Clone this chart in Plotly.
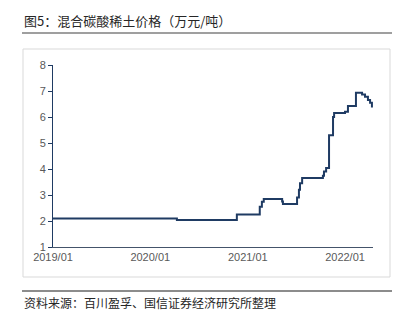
import plotly.graph_objects as go

dates = ["2019-01-01", "2020-04-10", "2020-11-21", "2021-02-15", "2021-02-23", "2021-03-02",
         "2021-05-10", "2021-05-13", "2021-07-05", "2021-07-12", "2021-07-16", "2021-07-24",
         "2021-10-10", "2021-10-14", "2021-10-22", "2021-11-02", "2021-11-06", "2021-11-17",
         "2021-11-21", "2021-11-28", "2022-01-01", "2022-01-12", "2022-02-08", "2022-02-11",
         "2022-03-06", "2022-03-17", "2022-03-28", "2022-04-05", "2022-04-12"]
values = [2.10, 2.04, 2.25, 2.55, 2.74, 2.85,
          2.75, 2.65, 2.90, 3.20, 3.45, 3.65,
          3.74, 3.90, 4.04, 5.30, 5.30, 6.00,
          6.15, 6.15, 6.20, 6.42, 6.42, 6.93,
          6.87, 6.78, 6.65, 6.55, 6.37]

title_text = "图5：混合碳酸稀土价格（万元/吨）"
source_text = "资料来源：百川盈孚、国信证券经济研究所整理"

CJK = "Noto Sans CJK SC"
NUM = "Liberation Sans, Arial"

fig = go.Figure()
fig.add_trace(go.Scatter(x=dates, y=values, mode="lines", line_shape="hv",
                         line=dict(color="#1f3b63", width=2), hoverinfo="skip"))

W, H = 406, 311
fig.update_layout(
    width=W, height=H,
    margin=dict(l=53, r=33, t=65, b=64),
    paper_bgcolor="white", plot_bgcolor="white",
    showlegend=False,
    xaxis=dict(range=["2019-01-01", "2022-04-16"], tickformat="%Y/%m", dtick="M12",
               tick0="2019-01-01", showgrid=False, zeroline=False, showline=True,
               linecolor="#44546a", linewidth=1, ticks="",
               tickfont=dict(family=NUM, size=11, color="#595959")),
    yaxis=dict(range=[1, 8], dtick=1, showgrid=False, zeroline=False, showline=True,
               linecolor="#1f3b63", linewidth=1, ticks="outside", ticklen=4,
               tickcolor="#1f3b63", tickwidth=1,
               tickfont=dict(family=NUM, size=11, color="#595959")),
    shapes=[
        dict(type="line", xref="paper", yref="paper", x0=(22-53)/320, x1=(392-53)/320,
             y0=(247-33)/182, y1=(247-33)/182, line=dict(color="#404040", width=1.2)),
        dict(type="rect", xref="paper", yref="paper", x0=(23-53)/320, x1=(390-53)/320,
             y0=(247-277)/182, y1=(247-49)/182, line=dict(color="#d9d9d9", width=1)),
        dict(type="line", xref="paper", yref="paper", x0=(22-53)/320, x1=(392-53)/320,
             y0=(247-291)/182, y1=(247-291)/182, line=dict(color="#8c8c8c", width=2)),
    ],
    annotations=[
        dict(text=title_text, xref="paper", yref="paper", x=(22-53)/320, y=(247-20)/182,
             xanchor="left", yanchor="middle", showarrow=False,
             font=dict(family=CJK, size=13, color="#262626")),
        dict(text=source_text, xref="paper", yref="paper", x=(22-53)/320, y=(247-302)/182,
             xanchor="left", yanchor="middle", showarrow=False,
             font=dict(family=CJK, size=12, color="#262626")),
    ],
)
fig.write_html("out.html")
